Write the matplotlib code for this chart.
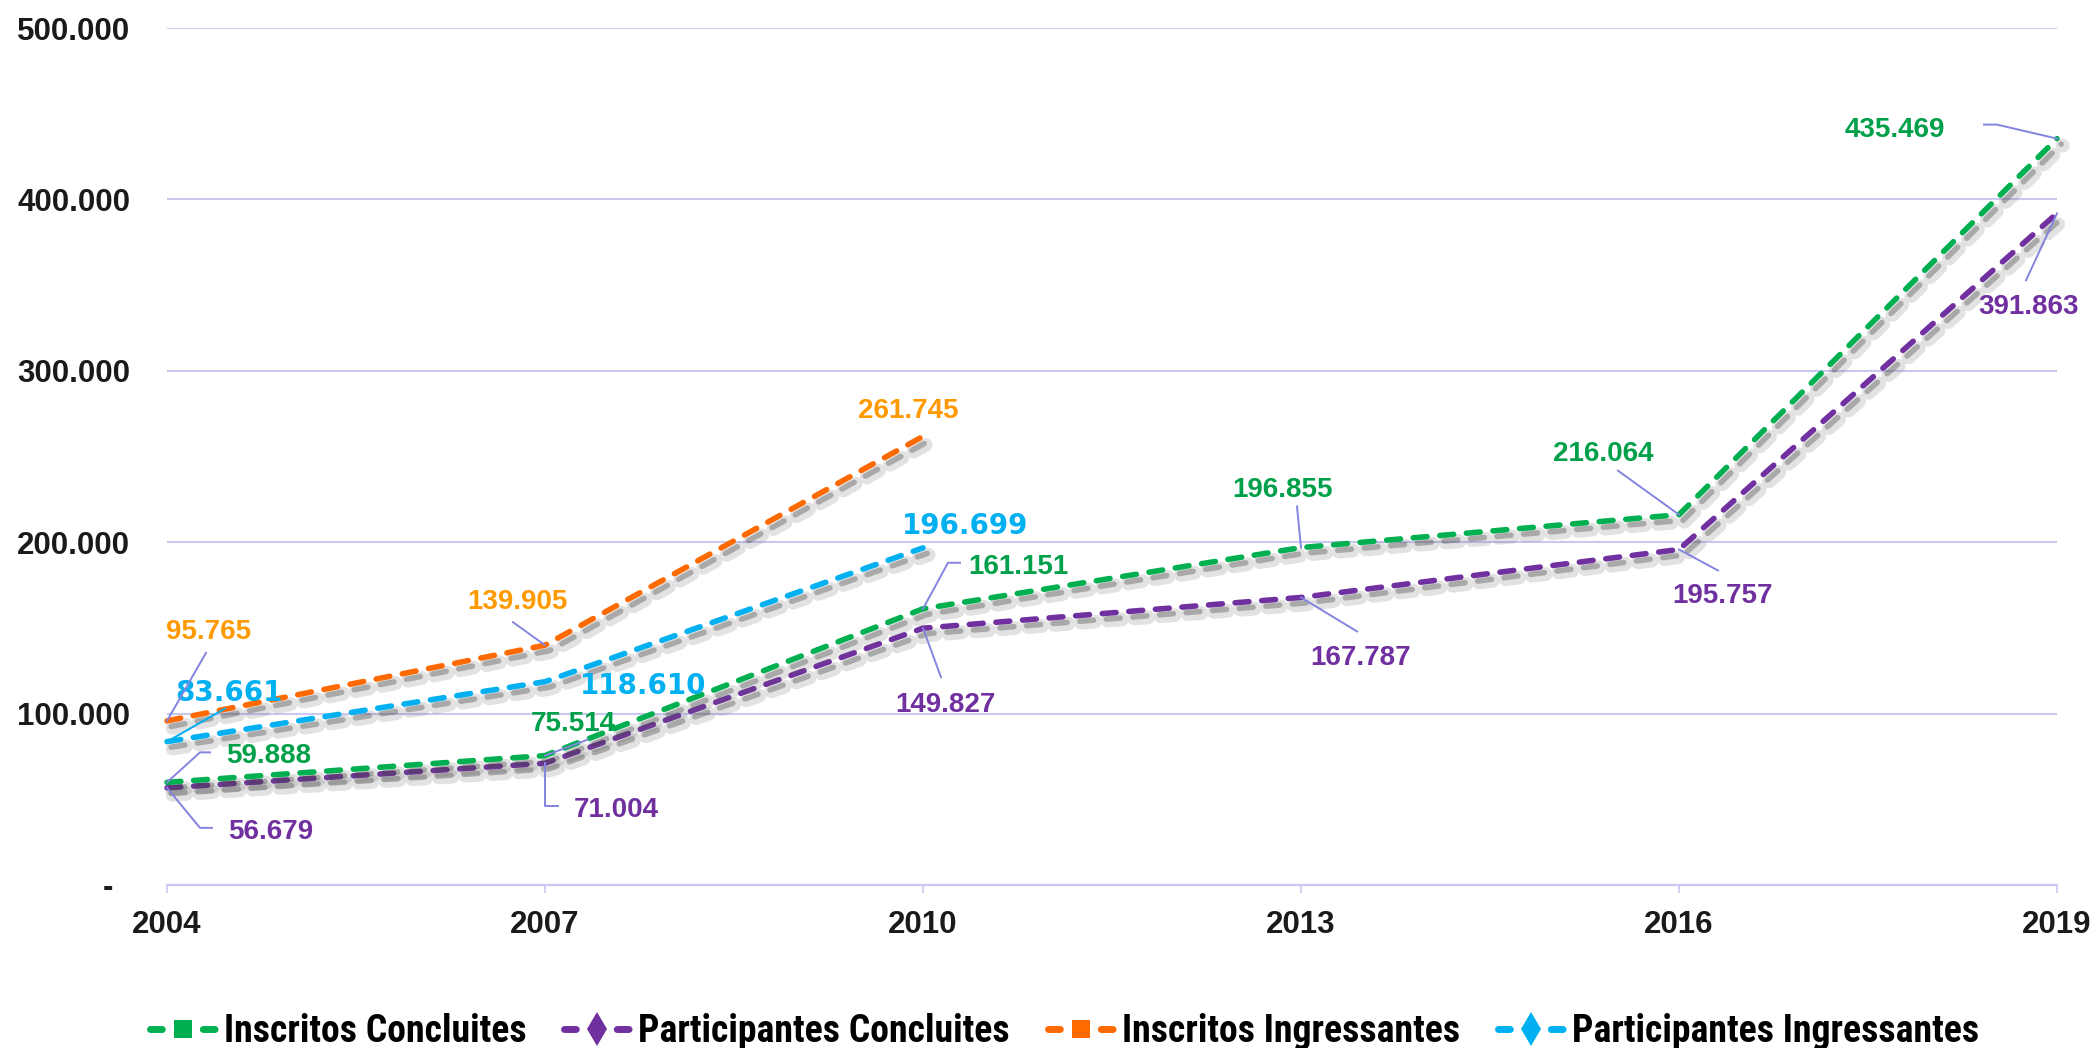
import matplotlib
matplotlib.use("Agg")
import matplotlib.pyplot as plt
import matplotlib.patheffects as pe
from matplotlib import font_manager as fm
from matplotlib.lines import Line2D
from matplotlib.transforms import ScaledTranslation, IdentityTransform

# ---------------- data ----------------
years = [2004, 2007, 2010, 2013, 2016, 2019]
years_ing = [2004, 2007, 2010]
inscritos_concluintes = [59888, 75514, 161151, 196855, 216064, 435469]
participantes_concluintes = [56679, 71004, 149827, 167787, 195757, 391863]
inscritos_ingressantes = [95765, 139905, 261745]
participantes_ingressantes = [83661, 118610, 196699]
series_names = ["Inscritos Concluites", "Participantes Concluites",
                "Inscritos Ingressantes", "Participantes Ingressantes"]
yticks = [0, 100000, 200000, 300000, 400000, 500000]

# ---------------- style ----------------
c_green, c_purple, c_orange, c_blue = "#00B050", "#7030A0", "#FF6A00", "#00B0F0"
lab_green, lab_purple, lab_orange, lab_blue = "#00A04A", "#7030A0", "#FF9900", "#00B0F0"
grid_c = "#C8C8F0"
lead_c = "#8484E0"

W, H = 2095, 1048
fig = plt.figure(figsize=(W / 100, H / 100), dpi=100)
ax = fig.add_axes([167 / W, 1 - 885 / H, (2057 - 167) / W, (885 - 28) / H])
ax.set_xlim(2004, 2019)
ax.set_ylim(0, 500000)

for s in ["left", "right", "top"]:
    ax.spines[s].set_visible(False)
ax.spines["bottom"].set_color(grid_c)
ax.spines["bottom"].set_linewidth(1.6)
ax.set_axisbelow(True)
ax.yaxis.grid(True, color=grid_c, lw=1.5)

ax.set_xticks(years)
ax.set_xticklabels([str(y) for y in years])
ax.set_yticks(yticks)
ax.set_yticklabels([f"{v:,}".replace(",", ".") if v else "-" for v in yticks])
ax.tick_params(axis="y", length=0, pad=26.5)
ax.tick_params(axis="x", length=6, width=1.2, color=grid_c, pad=12)
for lab in ax.get_xticklabels() + ax.get_yticklabels():
    lab.set_fontfamily("Liberation Sans")
    lab.set_fontweight("bold")
    lab.set_fontsize(22.5)
    lab.set_color("#1A1A1A")
ax.get_yticklabels()[0].set_transform(
    ax.get_yticklabels()[0].get_transform() + ScaledTranslation(-0.17, 0, fig.dpi_scale_trans))

shadow = [pe.SimpleLineShadow(offset=(4, -5), shadow_color="#606060", alpha=0.18, linewidth=10),
          pe.SimpleLineShadow(offset=(3, -4), shadow_color="#404040", alpha=0.35),
          pe.Normal()]
lw = 4.0
dash = (2.5, 2.3)


def draw(xs, ys, color):
    ln, = ax.plot(xs, ys, color=color, lw=lw, linestyle=(0, dash),
                  dash_capstyle="round", solid_capstyle="round", clip_on=False, zorder=3)
    ln.set_path_effects(shadow)


draw(years_ing, inscritos_ingressantes, c_orange)
draw(years_ing, participantes_ingressantes, c_blue)
draw(years, participantes_concluintes, c_purple)
draw(years, inscritos_concluintes, c_green)

# ---------------- data labels ----------------
ic_off = [(102, -29), (28, -35), (95, -45), (-19, -61), (-76, -64), (-162, -12)]
ic_lead = [[(33, -30), (43, -30)], [(43, -16)], [(25, -46), (37, -46)], [(-4, -41)],
           [(-61, -44)], [(-60, -14), (-73, -14)]]
pc_off = [(104, 41), (71, 44), (22, 74), (60, 58), (44, 44), (-28, 91)]
pc_lead = [[(33, 40), (45, 40)], [(0, 43), (13, 43)], [(18, 49)], [(56, 34)],
           [(39, 21)], [(-31, 67)]]
ii_off = [(42, -92), (-28, -46), (-15, -28)]
ii_lead = [[(39, -68)], [(-32, -23)], []]
pi_off = [(62, -52), (98, 1), (42, -25)]
pi_lead = [[(58, -33)], [], []]


def fmt(v):
    return f"{v:,}".replace(",", ".")


def labels(xs, vs, offs, leads, color, family, leadcolor=lead_c):
    for x, v, (dx, dy), lead in zip(xs, vs, offs, leads):
        ax.annotate(fmt(v), xy=(x, v), xytext=(dx, -dy), textcoords="offset pixels",
                    ha="center", va="center_baseline", fontsize=20, fontweight="bold",
                    family=family, color=color, zorder=5, annotation_clip=False)
        if lead:
            px, py = ax.transData.transform((x, v))
            vx = [px] + [px + a for a, b in lead]
            vy = [py] + [py - b for a, b in lead]
            fig.add_artist(Line2D(vx, vy, transform=IdentityTransform(),
                                  color=leadcolor, lw=1.4, zorder=6))


labels(years, inscritos_concluintes, ic_off, ic_lead, lab_green, ["Liberation Sans"])
labels(years, participantes_concluintes, pc_off, pc_lead, lab_purple, ["Liberation Sans"])
labels(years_ing, inscritos_ingressantes, ii_off, ii_lead, lab_orange, ["Liberation Sans"])
labels(years_ing, participantes_ingressantes, pi_off, pi_lead, lab_blue, ["DejaVu Sans"],
       leadcolor=c_blue)

# ---------------- legend ----------------
leg_family = "Liberation Sans"
for cand in ["Liberation Sans Narrow", "Arial Narrow", "Roboto Condensed"]:
    try:
        fm.findfont(fm.FontProperties(family=cand), fallback_to_default=False)
        leg_family = cand
        break
    except Exception:
        pass
# size legend font so that the first entry's text is ~302 px wide
renderer = fig.canvas.get_renderer()
probe = fig.text(0, 0, series_names[0], family=leg_family, weight="bold", size=20)
wpx = probe.get_window_extent(renderer).width
probe.remove()
leg_size = 20 * 302 / wpx
fs_px = leg_size * 100 / 72

leg_lw = 5.0
leg_style = dict(lw=leg_lw, linestyle=(0, (1.7, 5.9)), dash_capstyle="round")
handles = [
    Line2D([0], [0], color=c_green, marker="s", markersize=13, markeredgewidth=0, **leg_style),
    Line2D([0], [0], color=c_purple, marker="d", markersize=17, markeredgewidth=0, **leg_style),
    Line2D([0], [0], color=c_orange, marker="s", markersize=13, markeredgewidth=0, **leg_style),
    Line2D([0], [0], color=c_blue, marker="d", markersize=17, markeredgewidth=0, **leg_style),
]
fig.legend(handles, series_names, loc="center", bbox_to_anchor=(0.508, 1 - 1032 / H),
           ncol=4, frameon=False, numpoints=1, handlelength=66 / fs_px,
           handletextpad=8 / fs_px, columnspacing=38 / fs_px,
           prop=dict(family=leg_family, weight="bold", size=leg_size))

fig.savefig("out.png", dpi=100)
